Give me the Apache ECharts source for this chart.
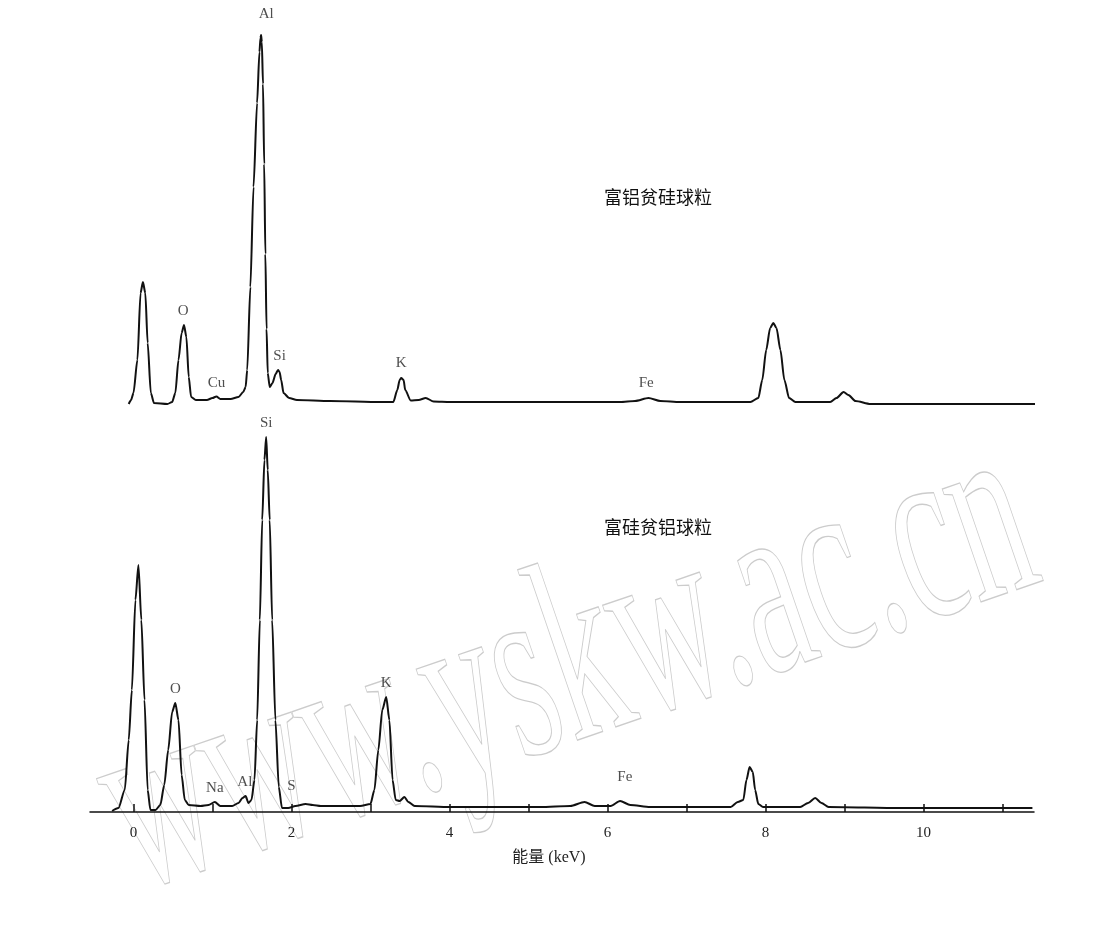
<!DOCTYPE html>
<html>
<head>
<meta charset="utf-8">
<script src="https://cdn.jsdelivr.net/npm/echarts@6/dist/echarts.min.js"></script>
<style>
  html, body { margin: 0; padding: 0; background: #fff; }
  #chart { width: 1110px; height: 936px; }
</style>
</head>
<body>
<div id="chart"></div>
<script>
// energy axis (keV)
const tickValues = [0, 1, 2, 3, 4, 5, 6, 7, 8, 9, 10, 11];
const tickLabels = [0, 2, 4, 6, 8, 10];

// 富铝贫硅球粒 spectrum (counts, arbitrary units)
const topEnergy = [-0.06, -0.03, 0.0, 0.05, 0.09, 0.12, 0.15, 0.18, 0.22, 0.26, 0.43, 0.49, 0.53, 0.57, 0.61, 0.64, 0.67, 0.70, 0.73, 0.79,
  0.93, 1.00, 1.05, 1.10, 1.23, 1.33, 1.39, 1.42, 1.44, 1.48, 1.52, 1.565, 1.595, 1.608, 1.616, 1.625, 1.64, 1.655, 1.67, 1.685, 1.70,
  1.725, 1.76, 1.80, 1.83, 1.85, 1.87, 1.90, 1.97, 2.07, 2.49, 3.13, 3.29, 3.34, 3.37, 3.39, 3.42, 3.44, 3.51, 3.61, 3.70, 3.80,
  4.01, 5.28, 6.16, 6.35, 6.52, 6.67, 6.92, 7.81, 7.91, 7.96, 8.01, 8.06, 8.10, 8.14, 8.19, 8.24, 8.30, 8.38, 8.82, 8.90, 8.99,
  9.05, 9.14, 9.33, 10.34, 11.44];
const topCounts = [0, 4, 11, 44, 111, 122, 111, 61, 11, 1, 0, 2, 11, 44, 71, 79, 67, 27, 7, 4,
  4, 6, 7.5, 5, 5, 7, 12, 17, 34, 117, 217, 301, 352, 366, 369, 362, 320, 240, 150, 75, 31,
  17, 21, 30, 34, 32, 24, 11, 6, 4, 3, 2, 2, 14, 24, 26, 24, 14, 3.5, 4, 6, 2.5,
  2, 2, 2, 3, 6, 3, 2, 2, 6, 24, 54, 76, 81, 76, 54, 24, 6, 2, 2, 6, 12,
  9, 3, 0, 0, 0];

// 富硅贫铝球粒 spectrum
const bottomEnergy = [-0.27, -0.19, -0.11, -0.06, -0.02, 0.025, 0.063, 0.10, 0.14, 0.18, 0.215, 0.28, 0.34, 0.39, 0.44, 0.49, 0.53, 0.57, 0.61, 0.65,
  0.70, 0.85, 0.95, 1.03, 1.10, 1.25, 1.33, 1.38, 1.42, 1.456, 1.494, 1.532, 1.566, 1.60, 1.63, 1.658, 1.68, 1.70, 1.725, 1.756, 1.797,
  1.84, 1.88, 1.96, 2.05, 2.18, 2.27, 2.37, 2.87, 3.00, 3.05, 3.10, 3.15, 3.20, 3.24, 3.28, 3.32, 3.37, 3.43, 3.48, 3.56,
  4.01, 5.15, 5.53, 5.71, 5.84, 6.04, 6.16, 6.29, 6.54, 7.56, 7.65, 7.72, 7.76, 7.80, 7.84, 7.87, 7.91, 7.97,
  8.44, 8.54, 8.63, 8.71, 8.80, 9.71, 10.97, 11.38];
const bottomCounts = [1, 4, 22, 72, 122, 212, 247, 192, 112, 22, 2, 2, 7, 27, 62, 100, 109, 92, 37, 12,
  7, 6, 7, 10, 6, 6, 9, 14, 16, 9, 12, 32, 92, 192, 292, 352, 375, 342, 292, 192, 92,
  25, 4, 4, 6, 8, 7, 6, 6, 8, 22, 62, 102, 115, 92, 32, 12, 11, 15, 10, 6,
  5, 5, 6, 10, 6, 6, 11, 7, 5, 5, 10, 12, 32, 45, 40, 22, 8, 5,
  5, 9, 14, 9, 5, 4, 4, 4];

// peak labels: [energy, level, element]
const topPeaks = [[1.68, 390, 'Al'], [0.63, 93, 'O'], [1.05, 21, 'Cu'], [1.85, 48, 'Si'], [3.39, 41, 'K'], [6.49, 21, 'Fe']];
const bottomPeaks = [[1.68, 389, 'Si'], [0.53, 123, 'O'], [3.20, 129, 'K'], [1.41, 30, 'Al'], [1.03, 24, 'Na'], [2.0, 26, 'S'], [6.22, 35, 'Fe']];

const pairs = (xs, ys) => xs.map((x, i) => [x, ys[i]]);
const serif = '"Liberation Serif", "DejaVu Serif", serif';
const cjk = '"Noto Sans CJK SC", sans-serif';

const chart = echarts.init(document.getElementById('chart'));

const lineStyle = { color: '#111', width: 2 };
const peakLabel = {
  show: true,
  position: 'inside',
  formatter: p => p.data[2],
  fontFamily: serif,
  fontSize: 15,
  color: '#222'
};

const option = {
  backgroundColor: '#fff',
  animation: false,
  graphic: [
    {
      // outlined watermark
      type: 'text', x: 155, y: 950, rotation: 0.33, scaleX: 0.55, z: 0, silent: true,
      style: {
        text: 'www.yskw.ac.cn', font: '260px "Liberation Serif"',
        fill: 'rgba(0,0,0,0)', stroke: '#cccccc', lineWidth: 1.4,
        textVerticalAlign: 'bottom'
      }
    },
    { type: 'text', x: 658, y: 197, z: 10,
      style: { text: '富铝贫硅球粒', font: '18px ' + cjk, fill: '#111', textAlign: 'center', textVerticalAlign: 'middle' } },
    { type: 'text', x: 658, y: 527, z: 10,
      style: { text: '富硅贫铝球粒', font: '18px ' + cjk, fill: '#111', textAlign: 'center', textVerticalAlign: 'middle' } },
    { type: 'text', x: 549, y: 858, z: 10,
      style: { text: '能量 (keV)', font: '16px ' + serif + ', ' + cjk, fill: '#222', textAlign: 'center', textVerticalAlign: 'middle' } }
  ],
  grid: [
    { left: 90, right: 76, top: 4, height: 400 },
    { left: 90, right: 76, top: 412, height: 400 }
  ],
  xAxis: [
    { type: 'value', gridIndex: 0, min: -0.55, max: 11.4, show: false },
    {
      type: 'value', gridIndex: 1, min: -0.55, max: 11.4,
      splitLine: { show: false },
      axisLine: { show: true, onZero: false, lineStyle: { color: '#111', width: 1.5 } },
      axisTick: { show: true, inside: true, length: 8, customValues: tickValues, lineStyle: { color: '#111', width: 1.5 } },
      axisLabel: { customValues: tickLabels, margin: 14, fontFamily: serif, fontSize: 15, color: '#222' }
    }
  ],
  yAxis: [
    { type: 'value', gridIndex: 0, min: 0, max: 400, show: false },
    { type: 'value', gridIndex: 1, min: 0, max: 400, show: false }
  ],
  series: [
    {
      type: 'line', xAxisIndex: 0, yAxisIndex: 0, data: pairs(topEnergy, topCounts),
      showSymbol: false, smooth: 0.25, smoothMonotone: 'x', lineStyle: lineStyle, z: 5
    },
    {
      type: 'line', xAxisIndex: 1, yAxisIndex: 1, data: pairs(bottomEnergy, bottomCounts),
      showSymbol: false, smooth: 0.25, smoothMonotone: 'x', lineStyle: lineStyle, z: 5
    },
    { type: 'scatter', xAxisIndex: 0, yAxisIndex: 0, data: topPeaks, symbolSize: 0, label: peakLabel, z: 6 },
    { type: 'scatter', xAxisIndex: 1, yAxisIndex: 1, data: bottomPeaks, symbolSize: 0, label: peakLabel, z: 6 }
  ]
};

chart.setOption(option);
</script>
</body>
</html>
